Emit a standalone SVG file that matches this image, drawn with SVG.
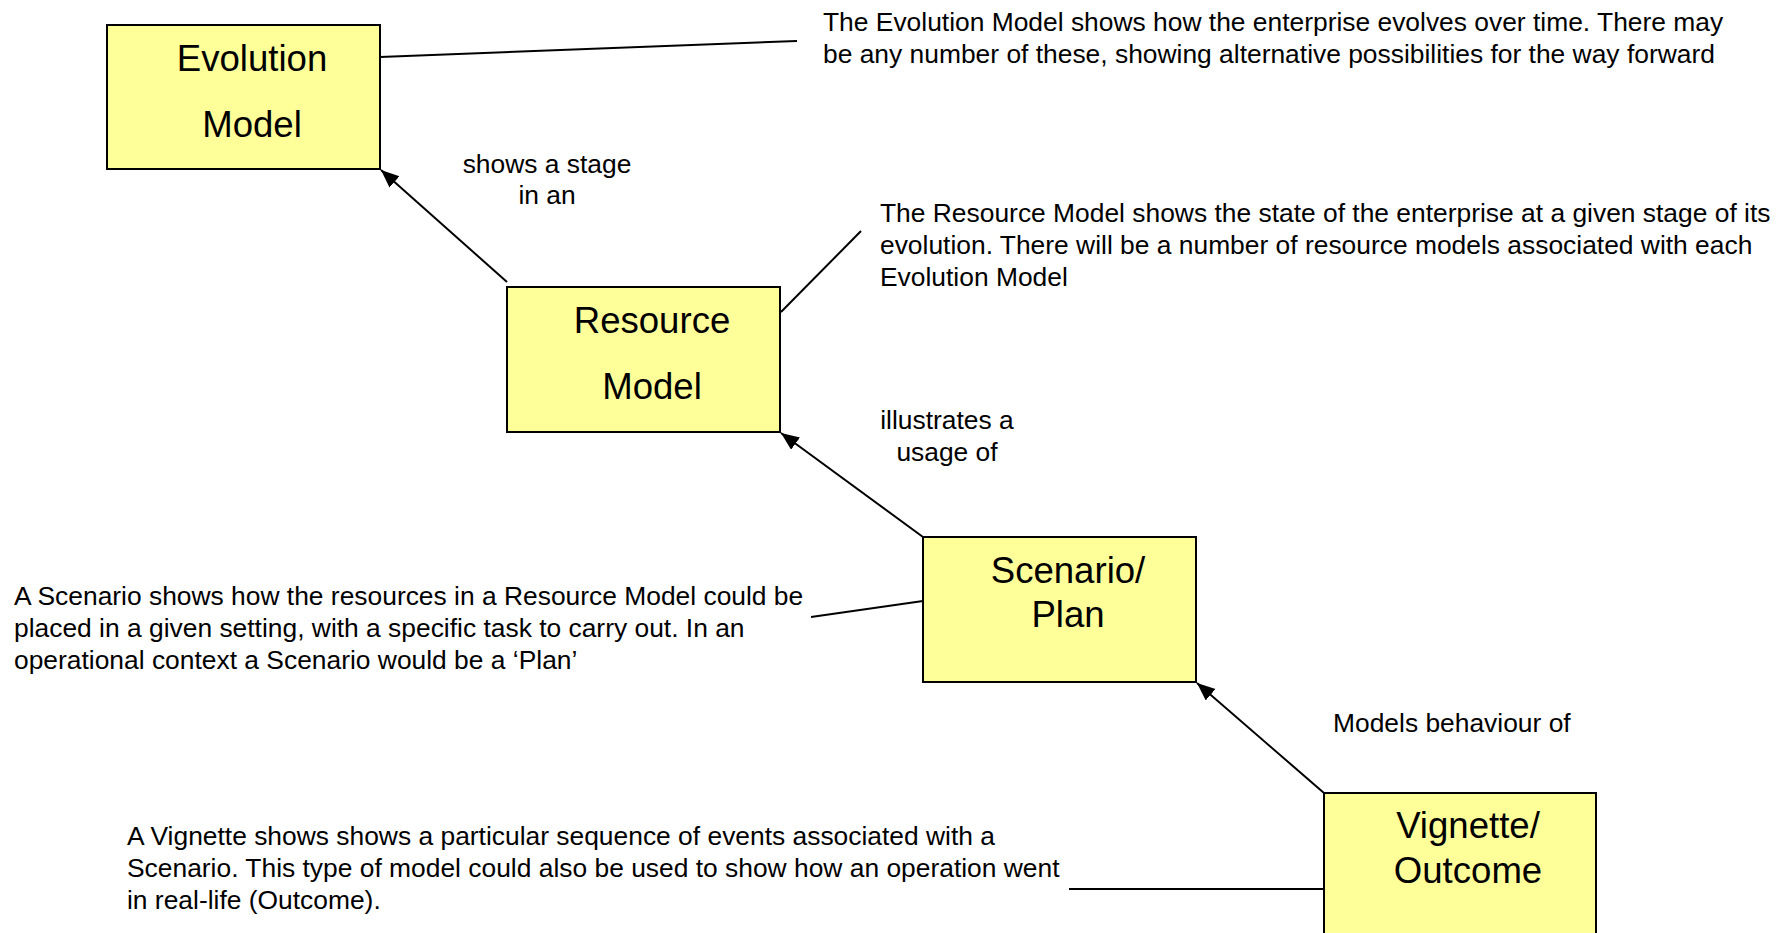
<svg xmlns="http://www.w3.org/2000/svg" width="1786" height="933" viewBox="0 0 1786 933">
  <style>
    .box { fill: #FFFF99; stroke: #000000; stroke-width: 2; }
    .title { font-family: "Liberation Sans", Arial, sans-serif; font-size: 36.6px; fill: #000000; text-anchor: middle; }
    .note { font-family: "Liberation Sans", Arial, sans-serif; font-size: 26.4px; fill: #000000; }
    .mid { text-anchor: middle; }
    .link { stroke: #000000; stroke-width: 2; fill: none; }
    .arrow { marker-end: url(#head); }
  </style>
  <defs>
    <marker id="head" markerUnits="userSpaceOnUse" markerWidth="20" markerHeight="16" refX="18" refY="7.5" orient="auto">
      <path d="M0,0 L18,7.5 L0,15 z" fill="#000000"/>
    </marker>
  </defs>

  <rect width="1786" height="933" fill="#FFFFFF"/>

  <!-- connectors: relationship arrows and annotation leader lines -->
  <g id="connectors">
    <line class="link" x1="380" y1="57" x2="797" y2="41"/>
    <line class="link arrow" x1="507" y1="282" x2="381" y2="170"/>
    <line class="link" x1="781" y1="312" x2="861" y2="231"/>
    <line class="link arrow" x1="923" y1="537" x2="781" y2="433"/>
    <line class="link" x1="811" y1="617" x2="923" y2="601"/>
    <line class="link arrow" x1="1324" y1="793" x2="1197" y2="683"/>
    <line class="link" x1="1069" y1="889" x2="1324" y2="889"/>
  </g>

  <g id="evolution-model">
    <rect class="box" x="107" y="25" width="273" height="144"/>
    <text class="title" x="252" y="71">Evolution</text>
    <text class="title" x="252" y="137">Model</text>
  </g>

  <g id="resource-model">
    <rect class="box" x="507" y="287" width="273" height="145"/>
    <text class="title" x="652" y="333">Resource</text>
    <text class="title" x="652" y="399">Model</text>
  </g>

  <g id="scenario-plan">
    <rect class="box" x="923" y="537" width="273" height="145"/>
    <text class="title" x="1068" y="583">Scenario/</text>
    <text class="title" x="1068" y="627">Plan</text>
  </g>

  <g id="vignette-outcome">
    <rect class="box" x="1324" y="793" width="272" height="145"/>
    <text class="title" x="1468" y="838">Vignette/</text>
    <text class="title" x="1468" y="883">Outcome</text>
  </g>

  <!-- relationship labels -->
  <g id="label-shows-stage">
    <text class="note mid" x="547" y="173">shows a stage</text>
    <text class="note mid" x="547" y="204">in an</text>
  </g>
  <g id="label-illustrates">
    <text class="note mid" x="947" y="429">illustrates a</text>
    <text class="note mid" x="947" y="461">usage of</text>
  </g>
  <g id="label-models-behaviour">
    <text class="note" x="1333" y="732">Models behaviour of</text>
  </g>

  <!-- explanatory notes -->
  <g id="note-evolution">
    <text class="note" x="823" y="31">The Evolution Model shows how the enterprise evolves over time. There may</text>
    <text class="note" x="823" y="63">be any number of these, showing alternative possibilities for the way forward</text>
  </g>
  <g id="note-resource">
    <text class="note" x="880" y="222">The Resource Model shows the state of the enterprise at a given stage of its</text>
    <text class="note" x="880" y="254">evolution. There will be a number of resource models associated with each</text>
    <text class="note" x="880" y="286">Evolution Model</text>
  </g>
  <g id="note-scenario">
    <text class="note" x="14" y="605">A Scenario shows how the resources in a Resource Model could be</text>
    <text class="note" x="14" y="637">placed in a given setting, with a specific task to carry out. In an</text>
    <text class="note" x="14" y="669">operational context a Scenario would be a ‘Plan’</text>
  </g>
  <g id="note-vignette">
    <text class="note" x="127" y="845">A Vignette shows shows a particular sequence of events associated with a</text>
    <text class="note" x="127" y="877">Scenario. This type of model could also be used to show how an operation went</text>
    <text class="note" x="127" y="909">in real-life (Outcome).</text>
  </g>
</svg>
